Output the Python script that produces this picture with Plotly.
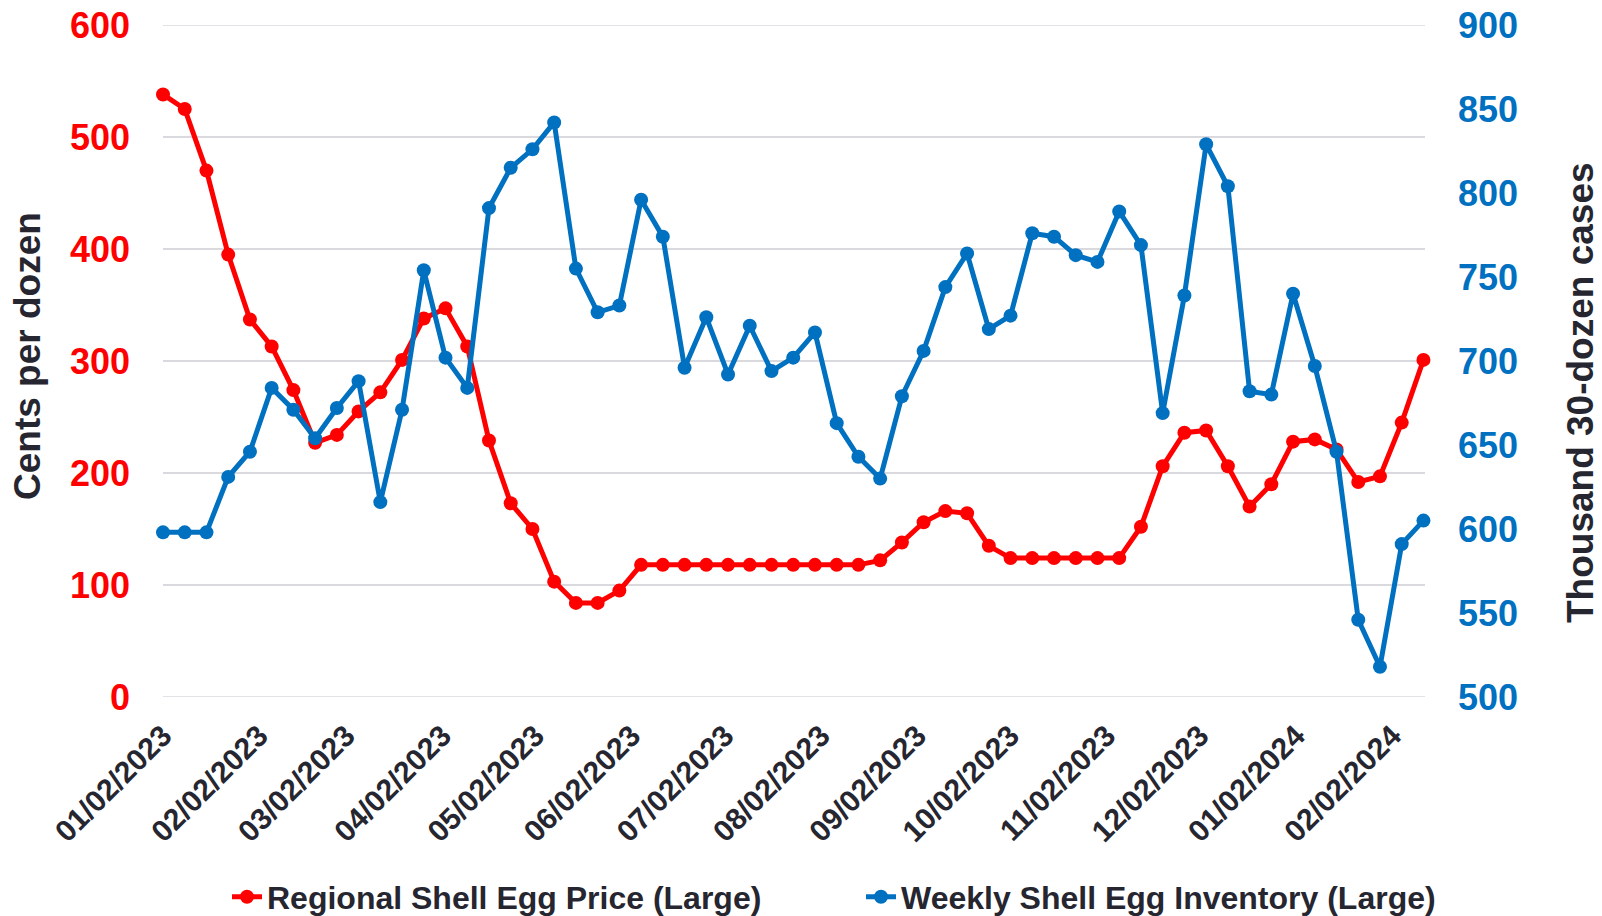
import plotly.graph_objects as go

weeks = [
    "2023-01-02", "2023-01-09", "2023-01-16", "2023-01-23", "2023-01-30",
    "2023-02-06", "2023-02-13", "2023-02-20", "2023-02-27",
    "2023-03-06", "2023-03-13", "2023-03-20", "2023-03-27",
    "2023-04-03", "2023-04-10", "2023-04-17", "2023-04-24",
    "2023-05-01", "2023-05-08", "2023-05-15", "2023-05-22", "2023-05-29",
    "2023-06-05", "2023-06-12", "2023-06-19", "2023-06-26",
    "2023-07-03", "2023-07-10", "2023-07-17", "2023-07-24", "2023-07-31",
    "2023-08-07", "2023-08-14", "2023-08-21", "2023-08-28",
    "2023-09-04", "2023-09-11", "2023-09-18", "2023-09-25",
    "2023-10-02", "2023-10-09", "2023-10-16", "2023-10-23", "2023-10-30",
    "2023-11-06", "2023-11-13", "2023-11-20", "2023-11-27",
    "2023-12-04", "2023-12-11", "2023-12-18", "2023-12-25",
    "2024-01-01", "2024-01-08", "2024-01-15", "2024-01-22", "2024-01-29",
    "2024-02-05", "2024-02-12",
]

price = [538, 525, 470, 395, 337, 313, 274, 227, 234, 255, 272, 301, 338, 347, 313,
         229, 173, 150, 103, 84, 84, 95,
         118, 118, 118, 118, 118, 118, 118, 118, 118, 118, 118,
         122, 138, 156, 166, 164, 135,
         124, 124, 124, 124, 124, 124,
         152, 206, 236, 238, 206, 170, 190, 228, 230, 221, 192, 197, 245, 301]

inventory = [598, 598, 598, 631, 646, 684, 671, 654, 672, 688, 616, 671, 754, 702, 684,
             791, 815, 826, 842, 755, 729, 733, 796, 774, 696, 726, 692, 721, 694, 702,
             717, 663, 643, 630, 679, 706, 744, 764, 719, 727, 776, 774, 763, 759, 789,
             769, 669, 739, 829, 804, 682, 680, 740, 697, 646, 546, 518, 591, 605]

tick_dates = ["2023-01-02", "2023-02-02", "2023-03-02", "2023-04-02", "2023-05-02",
              "2023-06-02", "2023-07-02", "2023-08-02", "2023-09-02", "2023-10-02",
              "2023-11-02", "2023-12-02", "2024-01-02", "2024-02-02"]
tick_text = ["01/02/2023", "02/02/2023", "03/02/2023", "04/02/2023", "05/02/2023",
             "06/02/2023", "07/02/2023", "08/02/2023", "09/02/2023", "10/02/2023",
             "11/02/2023", "12/02/2023", "01/02/2024", "02/02/2024"]

price_range = [0, 600]
inventory_range = [500, 900]

RED = "#FF0000"
BLUE = "#0070C0"
DARK = "#262630"
GRID = "#D9D9DE"
FONT = "Liberation Sans, Arial, sans-serif"

W, H = 1602, 916
fig = go.Figure()
fig.add_trace(go.Scatter(
    x=weeks, y=price, name="Regional Shell Egg Price (Large)",
    mode="lines+markers", line=dict(color=RED, width=5),
    marker=dict(color=RED, size=14), cliponaxis=False, yaxis="y",
    legend="legend"))
fig.add_trace(go.Scatter(
    x=weeks, y=inventory, name="Weekly Shell Egg Inventory (Large)",
    mode="lines+markers", line=dict(color=BLUE, width=5),
    marker=dict(color=BLUE, size=14), cliponaxis=False, yaxis="y2",
    legend="legend2"))

L, R, T, B = 163, 177, 25, 219
PW, PH = W - L - R, H - T - B
legend_font = dict(size=32, family=FONT, color=DARK, weight="bold")
fig.update_layout(
    width=W, height=H,
    margin=dict(l=L, r=R, t=T, b=B, autoexpand=False),
    paper_bgcolor="white", plot_bgcolor="white",
    font=dict(family=FONT, color=DARK),
    showlegend=True,
    legend=dict(orientation="h", xref="container", yref="container",
                x=227 / W, xanchor="left", y=1 - 897 / H, yanchor="middle",
                font=legend_font),
    legend2=dict(orientation="h", xref="container", yref="container",
                 x=861 / W, xanchor="left", y=1 - 897 / H, yanchor="middle",
                 font=legend_font),
    xaxis=dict(type="date", range=["2023-01-02", "2024-02-12 12:00"],
               tickvals=tick_dates, ticktext=tick_text, tickangle=-45,
               tickfont=dict(size=30, family=FONT, color=DARK, weight="bold"),
               showgrid=False, zeroline=False, showline=False, ticks="",
               ticklabelstandoff=14),
    yaxis=dict(range=price_range, dtick=100, showgrid=True, gridcolor=GRID,
               gridwidth=1.5, zeroline=False, showline=False, ticks="",
               tickfont=dict(size=36, family=FONT, color=RED, weight="bold"),
               ticklabelstandoff=32),
    yaxis2=dict(range=inventory_range, dtick=50, overlaying="y", side="right",
                showgrid=False, zeroline=False, showline=False, ticks="",
                tickfont=dict(size=36, family=FONT, color=BLUE, weight="bold"),
                ticklabelstandoff=32),
)

# gridlines at the axis ends (plotly omits them at the plot edges)
for yv in price_range:
    fig.add_shape(type="line", xref="paper", yref="y", x0=0, x1=1, y0=yv, y1=yv,
                  line=dict(color=GRID, width=1.5), layer="below")

fig.add_annotation(text="Cents per dozen", textangle=-90, showarrow=False,
                   xref="paper", yref="paper",
                   x=(27 - L) / PW, y=(H - B - 356) / PH,
                   xanchor="center", yanchor="middle",
                   font=dict(size=37, family=FONT, color=DARK, weight="bold"))
fig.add_annotation(text="Thousand 30-dozen cases", textangle=-90, showarrow=False,
                   xref="paper", yref="paper",
                   x=(1580 - L) / PW, y=(H - B - 393) / PH,
                   xanchor="center", yanchor="middle",
                   font=dict(size=37, family=FONT, color=DARK, weight="bold"))

fig.write_html("out.html", config={"displayModeBar": False},
               post_script="document.body.style.margin='0';document.body.style.overflow='hidden';")
